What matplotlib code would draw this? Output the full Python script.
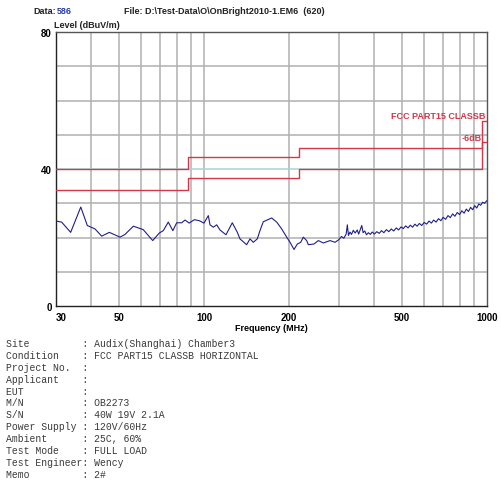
import matplotlib
matplotlib.use('Agg')
import matplotlib.pyplot as plt
from matplotlib.ticker import FixedLocator, NullLocator, FixedFormatter

# Measured trace (MHz, dBuV/m)
freq_mhz = [30, 31.4, 33.8, 36.7, 38.7, 41.2, 43.5, 46.3, 50.5, 52.6,
            56.3, 61.0, 65.9, 69.5, 71.8, 74.8, 77.6, 80.1, 83.4, 85.7,
            88.7, 92.4, 96.3, 100.0, 103.6, 105.0, 107.9, 110.9, 113.9, 119.6,
            125.9, 131.2, 134.0, 141.5, 145.4, 149.4, 154.3, 157.7, 162.0, 173.5,
            180.7, 188.2, 196.0, 201.4, 208.0, 213.7, 219.7, 224.3, 230.6, 233.7,
            244.7, 253.5, 264.0, 278.8, 290.4,
            300, 306, 312, 318, 321, 324, 328, 332, 337, 342,
            348, 352, 357, 361, 365, 370, 375, 381, 387, 393,
            400, 408, 416, 424, 432, 441, 450, 459, 468, 478,
            487, 497, 506, 516, 526, 536, 546, 556, 566, 577,
            588, 600, 612, 624, 636, 648, 661, 674, 687, 700,
            714, 728, 742, 756, 770, 785, 800, 815, 830, 845,
            860, 875, 890, 905, 920, 935, 950, 965, 980, 1000]
level_dbuv = [24.8, 24.5, 21.5, 28.9, 23.5, 22.5, 20.4, 21.5, 20.1, 20.9,
              23.3, 22.3, 19.1, 21.3, 22.0, 24.5, 22.0, 24.3, 24.3, 25.1,
              24.2, 25.2, 24.9, 24.2, 26.4, 23.7, 23.0, 23.7, 22.2, 20.8,
              24.3, 21.5, 19.6, 17.9, 19.6, 18.6, 19.6, 22.0, 24.6, 25.7,
              24.5, 22.5, 20.1, 18.6, 16.5, 18.1, 18.6, 20.1, 19.1, 17.9,
              18.1, 19.1, 18.4, 19.1, 18.6,
              19.4, 20.3, 19.8, 21.0, 23.7, 20.6, 21.6, 20.9, 22.1, 21.3,
              22.2, 21.0, 22.4, 23.5, 21.4, 21.9, 20.8, 21.4, 20.9, 21.6,
              21.0, 21.7, 21.2, 22.0, 21.4, 22.3, 21.7, 22.5, 21.9, 22.8,
              22.2, 23.1, 22.6, 23.4, 22.8, 23.6, 23.0, 23.9, 23.3, 24.1,
              23.5, 24.4, 23.9, 24.8, 24.2, 25.1, 24.5, 25.5, 24.9, 25.9,
              25.3, 26.4, 25.8, 26.9, 26.2, 27.3, 26.7, 27.8, 27.1, 28.3,
              27.6, 28.8, 28.1, 29.3, 28.6, 29.8, 29.4, 30.3, 30.0, 30.8]

# FCC Part 15 class B limit (step line) and the -6 dB margin
limit_freq = [30, 88, 88, 216, 216, 960, 960, 1000]
limit_level = [40, 40, 43.5, 43.5, 46, 46, 54, 54]
margin_db = 6

grid_freqs = [40, 50, 60, 70, 80, 90, 100, 200, 300, 400, 500, 600, 700, 800, 900]
xtick_vals = [30, 50, 100, 200, 500, 1000]
xtick_labels = ['30', '50', '100', '200', '500', '1000']
ytick_vals = [0, 40, 80]

info_lines = [
    "Site         : Audix(Shanghai) Chamber3",
    "Condition    : FCC PART15 CLASSB HORIZONTAL",
    "Project No.  :",
    "Applicant    :",
    "EUT          :",
    "M/N          : OB2273",
    "S/N          : 40W 19V 2.1A",
    "Power Supply : 120V/60Hz",
    "Ambient      : 25C, 60%",
    "Test Mode    : FULL LOAD",
    "Test Engineer: Wency",
    "Memo         : 2#",
]

W, H = 502, 485
fig = plt.figure(figsize=(W / 100, H / 100), dpi=100)
ax = fig.add_axes([56 / W, 1 - 307 / H, 431 / W, 274 / H])

ax.set_xscale('log')
ax.set_xlim(30, 1000)
ax.set_ylim(0, 80)

# grid
for f in grid_freqs:
    ax.axvline(f, color='#b0b0b0', lw=1.1, zorder=1)
for lv in range(10, 80, 10):
    c = '#a8d4d8' if lv == 40 else '#b0b0b0'
    ax.axhline(lv, color=c, lw=1.1, zorder=1)

red = '#d2384a'
ax.plot(limit_freq, limit_level, color=red, lw=1.0, zorder=3)
ax.plot(limit_freq, [v - margin_db for v in limit_level], color=red, lw=1.0, zorder=3)
ax.plot(freq_mhz, level_dbuv, color='#1f1f8c', lw=0.8, zorder=4)

ax.text(985, 55.5, 'FCC PART15 CLASSB', color=red, fontsize=6.5, fontweight='bold',
        ha='right', va='center', family='Liberation Sans')
ax.text(955, 49.3, '-6dB', color=red, fontsize=6.5, fontweight='bold',
        ha='right', va='center', family='Liberation Sans')

ax.xaxis.set_major_locator(FixedLocator(xtick_vals))
ax.xaxis.set_major_formatter(FixedFormatter(xtick_labels))
ax.xaxis.set_minor_locator(NullLocator())
ax.set_yticks(ytick_vals)
ax.tick_params(length=0, labelsize=7, pad=4)
for lab in ax.get_xticklabels() + ax.get_yticklabels():
    lab.set_fontweight('bold')
    lab.set_family('Liberation Sans')
ax.tick_params(axis='y', pad=3)
# keep "30" clear of the "0" on the y axis
ax.get_xticklabels()[0].set_horizontalalignment('left')

for side in ['top', 'right']:
    ax.spines[side].set_color('#555555')
for side in ['left', 'bottom']:
    ax.spines[side].set_color('#222222')
for sp in ax.spines.values():
    sp.set_linewidth(1.0)

ax.set_xlabel('Frequency (MHz)', fontsize=6.5, fontweight='bold',
              family='Liberation Sans', labelpad=1)

hdr = dict(fontsize=6.5, fontweight='bold', family='Liberation Sans', va='center')
fig.text(33 / W, 1 - 12 / H, 'Data:', color='#222222', **hdr)
fig.text(57 / W, 1 - 12 / H, '586', color='#2a3aa8', **hdr)
fig.text(124 / W, 1 - 12 / H, 'File: D:\\Test-Data\\O\\OnBright2010-1.EM6  (620)',
         color='#222222', **hdr)
fig.text(54 / W, 1 - 25 / H, 'Level (dBuV/m)', color='#222222', **hdr)

for i, line in enumerate(info_lines):
    fig.text(6 / W, 1 - (344 + i * 11.9) / H, line, fontsize=7,
             family='Liberation Mono', color='#3a3a3a', va='center')

fig.savefig('out.png', dpi=100)
